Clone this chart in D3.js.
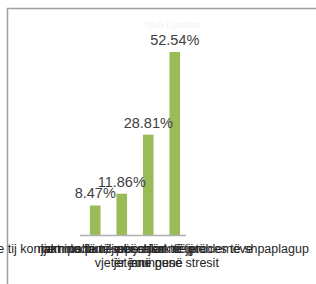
<!DOCTYPE html>
<html>
<head>
<meta charset="utf-8">
<script src="https://cdnjs.cloudflare.com/ajax/libs/d3/7.8.5/d3.min.js"></script>
<style>
  body { margin: 0; background: #fff; }
  svg { display: block; font-family: "Liberation Sans", Arial, sans-serif; }
</style>
</head>
<body>
<svg id="chart"></svg>
<script>
// values
let categories = ["Jetoj me të afërmit", "Jam i vjetër", "Nuk jam në punë", "Për shkak të stresit"];
let values = [8.47, 11.86, 28.81, 52.54];
// category labels, split in lines like the original (they overlap there too)
let labelLines = [
  ["e tij kontakt me familjen e afërt të tij"],
  ["me moshë të mbijetuar në jetë", "vjetër jam"],
  ["jam pa punë për shkak të problemeve", "jetë në punë"],
  ["jam i lodhur, sepse jam në proces të shpaplagup", "mungese stresit"]
];

let width = 316, height = 284;
let margin = {top: 26, bottom: 49};

let svg = d3.select("#chart")
  .attr("width", width)
  .attr("height", height);

// chart frame
svg.append("rect")
  .attr("x", 7.5).attr("y", 8.5)
  .attr("width", 330).attr("height", 300)
  .attr("fill", "#fff")
  .attr("stroke", "#a0a0a0")
  .attr("stroke-width", 1.5);

// faint title
svg.append("text")
  .attr("x", 172).attr("y", 28)
  .attr("text-anchor", "middle")
  .style("font-size", "9px")
  .style("fill", "#f3f3f3")
  .text("Titulli i grafikut");

let x = d3.scaleBand()
  .domain(categories)
  .range([82, 188])
  .paddingInner(0.6)
  .paddingOuter(0.3);

let y = d3.scaleLinear()
  .domain([0, 60])
  .range([height - margin.bottom, margin.top]);

let g = svg.append("g");

g.selectAll("rect.bar")
  .data(values)
  .enter()
  .append("rect")
  .attr("class", "bar")
  .attr("x", (d, i) => x(categories[i]))
  .attr("y", d => y(d))
  .attr("width", x.bandwidth())
  .attr("height", d => y(0) - y(d))
  .attr("fill", "#9bbb59");

// category axis line
g.append("line")
  .attr("x1", 80).attr("x2", 186)
  .attr("y1", y(0) + 0.5).attr("y2", y(0) + 0.5)
  .attr("stroke", "#b0b0b0")
  .attr("stroke-width", 1.5);

// value labels
g.selectAll("text.val")
  .data(values)
  .enter()
  .append("text")
  .attr("class", "val")
  .attr("x", (d, i) => x(categories[i]) + x.bandwidth() / 2)
  .attr("y", d => y(d) - 7)
  .attr("text-anchor", "middle")
  .style("font-size", "14.5px")
  .style("fill", "#404040")
  .text(d => d.toFixed(2) + "%");

// category labels
let labels = g.selectAll("text.cat")
  .data(labelLines)
  .enter()
  .append("text")
  .attr("class", "cat")
  .attr("text-anchor", "middle")
  .style("font-size", "12.5px")
  .style("fill", "#262626");

labels.selectAll("tspan")
  .data((d, i) => d.map(t => ({t: t, i: i})))
  .enter()
  .append("tspan")
  .attr("x", d => x(categories[d.i]) + x.bandwidth() / 2)
  .attr("y", (d, j) => 253 + j * 13.5)
  .text(d => d.t);
</script>
</body>
</html>
